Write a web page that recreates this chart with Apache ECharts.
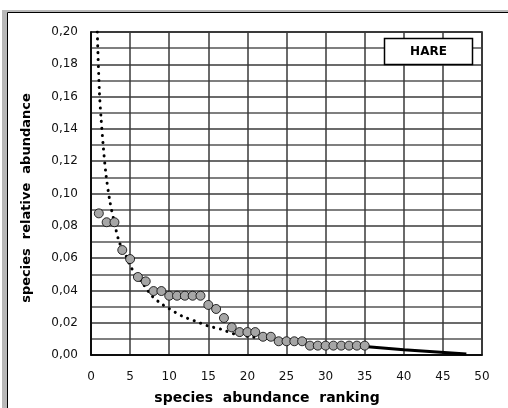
<!DOCTYPE html>
<html><head><meta charset="utf-8">
<script src="https://cdn.jsdelivr.net/npm/echarts@6/dist/echarts.min.js"></script>
<style>html,body{margin:0;padding:0;background:#fff}#c{width:508px;height:408px}</style>
</head><body><div id="c"></div>
<script>
// observed relative abundance by rank (circles)
var ranks = [1,2,3,4,5,6,7,8,9,10,11,12,13,14,15,16,17,18,19,20,21,22,23,24,25,26,27,28,29,30,31,32,33,34,35];
var abundance = [0.0877,0.0822,0.0822,0.065,0.0594,0.0483,0.0456,0.0396,0.0396,0.0367,0.0367,0.0367,0.0367,0.0367,0.031,0.0285,0.0229,0.0171,0.0142,0.0142,0.0142,0.0113,0.0113,0.0085,0.0085,0.0085,0.0085,0.0058,0.0058,0.0058,0.0058,0.0058,0.0058,0.0058,0.0058];
// tail of the ranking (thick line)
var tailRanks = [35,40,48];
var tailValues = [0.0052,0.0032,0.0006];
// dotted trend curve
var trendX = [0.8,1.06,1.28,1.57,1.91,2.42,2.97,3.61,4.46,5.19,6.76,7.82,8.8,9.99,11.65,13.27,14.96,16.67,18.37,20.92];
var trendY = [0.2,0.164,0.147,0.129,0.112,0.095,0.0825,0.070,0.0617,0.0537,0.0433,0.0365,0.0324,0.0287,0.0241,0.0211,0.018,0.0159,0.013,0.011];
var xTicks = [0,5,10,15,20,25,30,35,40,45,50];
var yTicks = [0,0.02,0.04,0.06,0.08,0.10,0.12,0.14,0.16,0.18,0.20];
var legendText = 'HARE';
var xTitle = 'species  abundance  ranking';
var yTitle = 'species  relative  abundance';

function zip(a,b){return a.map(function(v,i){return [v,b[i]];});}
var FONT = 'DejaVu Sans';
var chart = echarts.init(document.getElementById('c'), null, {renderer:'canvas'});
chart.setOption({
  animation:false,
  backgroundColor:'#fff',
  grid:{left:91,right:26,top:32,bottom:53,show:true,borderColor:'#000',borderWidth:1.5,backgroundColor:'transparent'},
  xAxis:{type:'value',min:xTicks[0],max:xTicks[xTicks.length-1],interval:5,
    axisLine:{show:true,lineStyle:{color:'#000',width:1.5}},axisTick:{show:false},
    axisLabel:{fontFamily:FONT,fontSize:12,color:'#111',margin:16},
    splitLine:{show:true,lineStyle:{color:'#3a3a3a',width:1.5}}},
  yAxis:{type:'value',min:yTicks[0],max:yTicks[yTicks.length-1],interval:0.02,
    axisLine:{show:true,lineStyle:{color:'#000',width:1.5}},axisTick:{show:false},
    axisLabel:{fontFamily:FONT,fontSize:12,color:'#111',margin:13,
      formatter:function(v){return v.toFixed(2).replace('.',',');}},
    splitLine:{show:true,lineStyle:{color:'#3a3a3a',width:1.5}},
    minorTick:{show:false,splitNumber:2},
    minorSplitLine:{show:true,lineStyle:{color:'#555',width:1.5}}},
  graphic:[
    {type:'rect',shape:{x:2,y:10,width:5,height:500},style:{fill:'#b8b8b8'},silent:true},
    {type:'rect',shape:{x:2,y:10,width:600,height:2},style:{fill:'#b8b8b8'},silent:true},
    {type:'rect',shape:{x:7.5,y:12.5,width:600,height:500},style:{fill:'none',stroke:'#000',lineWidth:1},silent:true},
    {type:'rect',shape:{x:384.5,y:38.5,width:88,height:26},style:{fill:'#fff',stroke:'#000',lineWidth:1.5},z:100},
    {type:'text',x:428.5,y:52,style:{text:legendText,fontFamily:FONT,fontWeight:'bold',fontSize:12,fill:'#000',align:'center',verticalAlign:'middle'},z:101},
    {type:'text',x:267,y:398,style:{text:xTitle,fontFamily:FONT,fontWeight:'bold',fontSize:14,fill:'#000',align:'center',verticalAlign:'middle'}},
    {type:'text',x:27,y:198,rotation:Math.PI/2,style:{text:yTitle,fontFamily:FONT,fontWeight:'bold',fontSize:13,fill:'#000',align:'center',verticalAlign:'middle'}}
  ],
  series:[
    {type:'line',data:zip(trendX,trendY),showSymbol:false,smooth:0.3,clip:true,z:2,
      lineStyle:{color:'#000',width:3,type:[0.1,6.8],cap:'round'}},
    {type:'line',data:zip(tailRanks,tailValues),showSymbol:false,z:3,
      lineStyle:{color:'#000',width:3}},
    {type:'scatter',data:zip(ranks,abundance),symbol:'circle',symbolSize:9,z:4,
      itemStyle:{color:'#a6a6a6',borderColor:'#000',borderWidth:0.8,opacity:1}}
  ]
});
</script></body></html>
